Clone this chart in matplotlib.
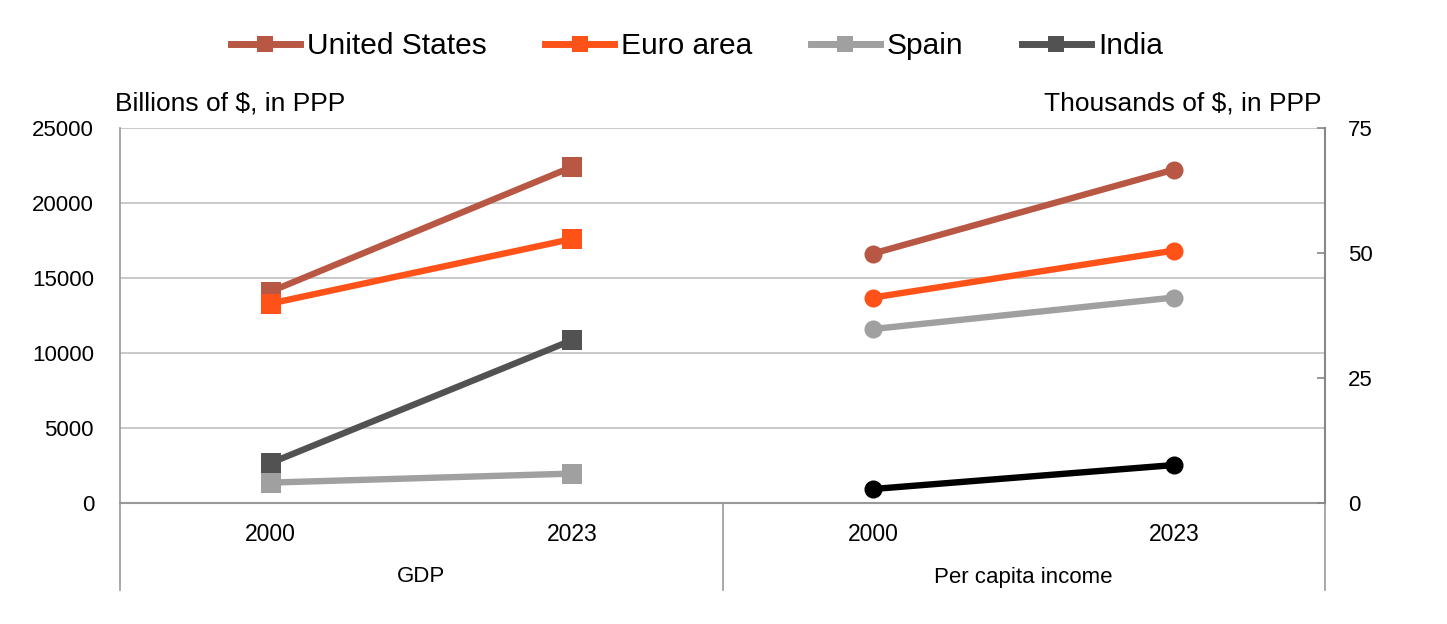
import matplotlib
matplotlib.use("Agg")
import matplotlib.pyplot as plt
from matplotlib.lines import Line2D

plt.rcParams['font.family'] = ['Liberation Sans', 'DejaVu Sans']

years = ["2000", "2023"]
groups = ["GDP", "Per capita income"]
series = ["United States", "Euro area", "Spain", "India"]

gdp_us = [14100, 22400]
gdp_euro = [13300, 17600]
gdp_spain = [1360, 1960]
gdp_india = [2670, 10850]

pc_us = [49.9, 66.7]
pc_euro = [41.1, 50.5]
pc_spain = [34.8, 41.1]
pc_india = [2.8, 7.6]

gdp_colors = ["#B85744", "#FF5219", "#A0A0A0", "#525252"]
pc_colors = ["#B85744", "#FF5219", "#A0A0A0", "#000000"]

fig = plt.figure(figsize=(14.47, 6.24), dpi=100)
ax = fig.add_axes([120/1447, 1-503/624, (1325-120)/1447, (503-128)/624])
ax2 = ax.twinx()

xg = [0, 1]
xp = [2, 3]
gdp_all = [gdp_us, gdp_euro, gdp_spain, gdp_india]
pc_all = [pc_us, pc_euro, pc_spain, pc_india]

for vals, col, name in zip(gdp_all, gdp_colors, series):
    ax.plot(xg, vals, color=col, lw=4.6, marker='s', markersize=14,
            markeredgewidth=0, label=name, solid_capstyle='butt')
for vals, col in zip(pc_all, pc_colors):
    ax2.plot(xp, vals, color=col, lw=4.6, marker='o', markersize=13,
             markeredgewidth=0, solid_capstyle='butt')

ax.set_xlim(-0.5, 3.5)
ax.set_ylim(0, 25000)
ax.set_yticks(range(0, 25001, 5000))
ax2.set_ylim(0, 75)
ax2.set_yticks([0, 25, 50, 75])

ax.grid(axis='y', color='#C0C0C0', lw=1.2)
ax.set_axisbelow(True)

for a in (ax, ax2):
    for s in ['top', 'bottom']:
        a.spines[s].set_visible(False)
ax2.spines['left'].set_visible(False)
ax.spines['right'].set_visible(False)
ax.spines['left'].set_color('#999999')
ax2.spines['right'].set_color('#888888')
ax.spines['left'].set_linewidth(1.2)
ax2.spines['right'].set_linewidth(1.5)

ax.tick_params(axis='y', length=0, labelsize=16, pad=18.7)
ax2.tick_params(axis='y', direction='in', length=6, color='#888888', width=1.2,
                labelsize=16, pad=16.5)
ax.set_xticks([0, 1, 2, 3])
ax.set_xticklabels(years + years, fontsize=16.5)
ax.tick_params(axis='x', length=0, pad=14.5)

# bottom axis line and category separators
ax.plot([0, 1], [0, 0], transform=ax.transAxes, color='#999999', lw=1.5, clip_on=False, zorder=5)
ext = -(590-503)/375
for xs in [0, 0.5, 1.0]:
    ax.plot([xs, xs], [0, ext], transform=ax.transAxes, color='#999999', lw=1.2, clip_on=False)
for i, g in enumerate(groups):
    ax.text(0.25 + 0.5*i, -(577-503)/375, g, transform=ax.transAxes,
            ha='center', va='center', fontsize=16)

fig.text(115/1447, 1-104/624, "Billions of $, in PPP", ha='left', va='center', fontsize=19)
fig.text(1322/1447, 1-104/624, "Thousands of $, in PPP", ha='right', va='center', fontsize=19)

leg_handles = [Line2D([0], [0], color=c, lw=5, marker='s', markersize=12, markeredgewidth=0)
               for c in gdp_colors]
fig.legend(leg_handles, series, loc='center', bbox_to_anchor=(697/1447, 1-46/624),
           ncol=4, frameon=False, fontsize=21.5, handlelength=2.3, handletextpad=0.25,
           columnspacing=1.95)

fig.savefig("out.png", dpi=100)
